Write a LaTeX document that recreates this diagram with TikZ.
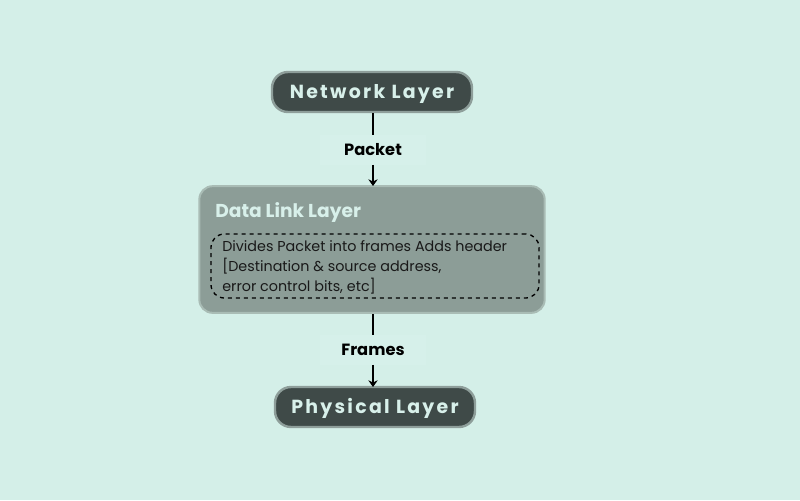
\documentclass[tikz,border=0pt]{standalone}
\usepackage{fontspec}
\setmainfont{Poppins}
\newfontfamily\titlefont[LetterSpace=12]{Poppins}
\usetikzlibrary{arrows.meta}
\definecolor{bgc}{HTML}{D4EFE8}
\definecolor{darkbox}{HTML}{3F4A48}
\definecolor{darkedge}{HTML}{8E9E9A}
\definecolor{midbox}{HTML}{8C9D97}
\definecolor{midedge}{HTML}{A9BCB5}
\definecolor{lighttext}{HTML}{D8F0EA}
\definecolor{lblbg}{HTML}{D6F0EA}
\tikzset{
  layerbox/.style={draw=darkedge, line width=1.8pt, fill=darkbox, rounded corners=12pt,
    minimum width=150pt, minimum height=30pt, inner sep=0pt, text height=10pt, text depth=0pt,
    text=lighttext, font=\titlefont\bfseries\fontsize{14.2}{16}\selectfont},
  flowlbl/.style={fill=lblbg, minimum width=80pt, minimum height=22pt, inner sep=0pt,
    font=\bfseries\fontsize{12.2}{14}\selectfont, text=black},
  conn/.style={line width=1.9pt, black},
  arr/.style={conn, -{Stealth[length=5pt, width=7pt]}},
}
\begin{document}
\begin{tikzpicture}[x=0.75pt, y=-0.75pt]
\fill[bgc] (0,0) rectangle (800,500);
\useasboundingbox (0,0) rectangle (800,500);

\node[layerbox] (net) at (372,92) {Network Layer};
\node[flowlbl] (pkt) at (373,150) {Packet};

\node[draw=midedge, line width=1.5pt, fill=midbox, rounded corners=10pt,
  minimum width=259pt, minimum height=95pt, inner sep=0pt] (dll) at (372,249.5) {};
\node[anchor=west, text=lighttext, font=\bfseries\fontsize{14}{16}\selectfont, inner sep=0pt]
  (dlltitle) at (215,212) {Data Link Layer};
\node[draw=black, dashed, line width=1pt, rounded corners=10pt,
  minimum width=246pt, minimum height=48pt, inner sep=0pt] (dash) at (375,266) {};
\node[anchor=north west, align=left, inner sep=0pt, text=black!90,
  font=\fontsize{10.75}{15}\selectfont] (desc) at (222,240.5)
  {Divides Packet into frames Adds header\\{[}Destination \& source address,\\error control bits, etc{]}};

\node[flowlbl] (frm) at (373,350) {Frames};
\node[layerbox] (phy) at (375,407) {Physical Layer};

\coordinate (n1) at (373,113);
\coordinate (d1) at (373,186);
\coordinate (d2) at (373,314);
\coordinate (p1) at (373,387);
\draw[conn] (n1) -- (pkt.north);
\draw[arr] (pkt.south) -- (d1);
\draw[conn] (d2) -- (frm.north);
\draw[arr] (frm.south) -- (p1);
\end{tikzpicture}
\end{document}
